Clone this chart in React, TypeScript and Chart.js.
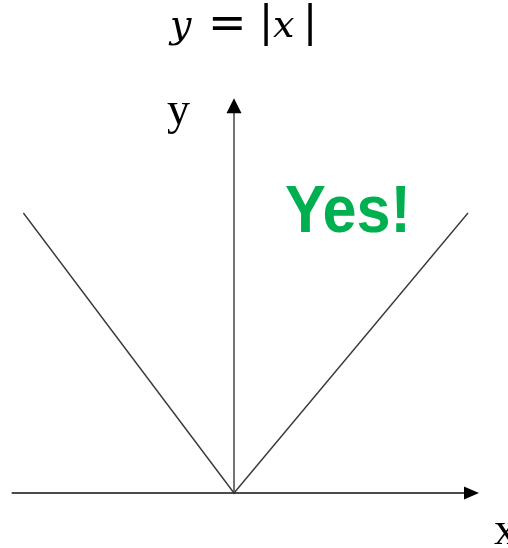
import React, { useEffect, useRef } from "react";
import { Chart, registerables } from "chart.js";

Chart.register(...registerables);

// Data (right branch end = 1 unit)
const xValues = [-0.9, 0, 1];
const yValues = [1, 0, 1];

// Axis extents (data units)
const xAxisRange = [-0.95, 1.047];
const yAxisRange = [0, 1.41];

// Labels
const axisLabelX = "x";
const axisLabelY = "y";
const calloutText = "Yes!";

const W = 508;
const H = 548;

function drawAt(ctx: CanvasRenderingContext2D, t: string, left: number, base: number) {
  const m = ctx.measureText(t);
  ctx.fillText(t, left + m.actualBoundingBoxLeft, base);
}

const overlayPlugin = {
  id: "overlay",
  afterDraw(chart: any) {
    const ctx = chart.ctx as CanvasRenderingContext2D;
    const xs = chart.scales.x;
    const ys = chart.scales.y;
    const ox = xs.getPixelForValue(0);
    const oy = ys.getPixelForValue(0);
    const x0 = xs.getPixelForValue(xAxisRange[0]);
    const x1 = xs.getPixelForValue(xAxisRange[1]);
    const yTop = ys.getPixelForValue(yAxisRange[1]);

    ctx.save();
    ctx.strokeStyle = "#111";
    ctx.fillStyle = "#000";
    ctx.lineWidth = 1.5;
    // x axis
    ctx.beginPath();
    ctx.moveTo(x0, oy);
    ctx.lineTo(x1 - 12, oy);
    ctx.stroke();
    ctx.beginPath();
    ctx.moveTo(x1, oy);
    ctx.lineTo(x1 - 15, oy - 6.5);
    ctx.lineTo(x1 - 15, oy + 6.5);
    ctx.closePath();
    ctx.fill();
    // y axis
    ctx.strokeStyle = "#444";
    ctx.beginPath();
    ctx.moveTo(ox, oy);
    ctx.lineTo(ox, yTop + 12);
    ctx.stroke();
    ctx.beginPath();
    ctx.moveTo(ox, yTop);
    ctx.lineTo(ox - 7.5, yTop + 15);
    ctx.lineTo(ox + 7.5, yTop + 15);
    ctx.closePath();
    ctx.fill();

    // axis labels
    ctx.fillStyle = "#000";
    ctx.textBaseline = "alphabetic";
    ctx.textAlign = "left";
    ctx.font = "46px 'Liberation Serif', 'Times New Roman', serif";
    ctx.fillText(axisLabelY, 167, 124);
    ctx.fillText(axisLabelX, 494, 544);

    // title y = |x|
    ctx.font = "italic 38px 'DejaVu Serif', serif";
    drawAt(ctx, "y", 168, 37);
    drawAt(ctx, "x", 273, 37);
    ctx.font = "46px 'DejaVu Serif', serif";
    drawAt(ctx, "=", 212, 38);
    ctx.font = "42px 'DejaVu Sans', sans-serif";
    drawAt(ctx, "|", 264, 36);
    drawAt(ctx, "|", 308, 36);

    // callout
    ctx.fillStyle = "#00B050";
    ctx.font = "bold 66px 'Liberation Sans', Arial, sans-serif";
    const tw = ctx.measureText(calloutText).width;
    const sx = 126 / tw;
    ctx.translate(285, 232);
    ctx.scale(sx, 1);
    ctx.fillText(calloutText, 0, 0);
    ctx.restore();
  },
};

export default function App() {
  const ref = useRef<HTMLCanvasElement | null>(null);

  useEffect(() => {
    if (!ref.current) return;
    const pxPerX = 234;
    const pxPerY = 280;
    const originX = 234;
    const originY = 493;
    const chart = new Chart(ref.current, {
      type: "line",
      data: {
        datasets: [
          {
            data: xValues.map((x, i) => ({ x, y: yValues[i] })),
            borderColor: "#3a3a3a",
            borderWidth: 1.4,
            pointRadius: 0,
            tension: 0,
            fill: false,
          },
        ],
      },
      options: {
        responsive: false,
        animation: false,
        layout: { padding: 0 },
        plugins: {
          legend: { display: false },
          tooltip: { enabled: false },
          title: { display: false },
        },
        scales: {
          x: {
            type: "linear",
            display: false,
            min: -originX / pxPerX,
            max: (W - originX) / pxPerX,
          },
          y: {
            type: "linear",
            display: false,
            min: -(H - originY) / pxPerY,
            max: originY / pxPerY,
          },
        },
      },
      plugins: [overlayPlugin],
    });
    return () => chart.destroy();
  }, []);

  return (
    <div style={{ position: "absolute", left: 0, top: 0, width: W, height: H, background: "#fff" }}>
      <canvas ref={ref} width={W} height={H} style={{ display: "block" }} />
    </div>
  );
}
